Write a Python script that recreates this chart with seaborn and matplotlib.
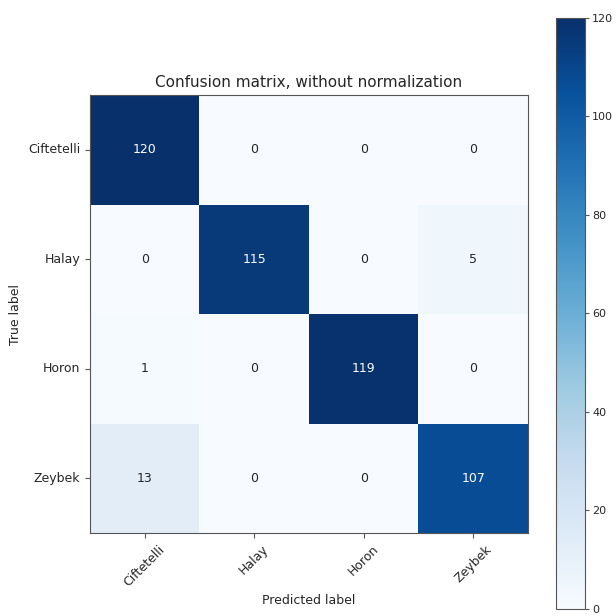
import numpy as np
import pandas as pd
import matplotlib
matplotlib.use("Agg")
import matplotlib.pyplot as plt
import seaborn as sns

classes = ["Ciftetelli", "Halay", "Horon", "Zeybek"]
row_ciftetelli = [120, 0, 0, 0]
row_halay = [0, 115, 0, 5]
row_horon = [1, 0, 119, 0]
row_zeybek = [13, 0, 0, 107]
cbar_ticks = [0, 20, 40, 60, 80, 100, 120]

cm = pd.DataFrame([row_ciftetelli, row_halay, row_horon, row_zeybek],
                  index=classes, columns=classes)

sns.set_style("white")
plt.rcParams["font.family"] = ["DejaVu Sans"]

fig = plt.figure(figsize=(6.16, 6.16), dpi=100)
ax = fig.add_axes([0.1461, 0.1347, 0.7110, 0.7110])
cax = fig.add_axes([0.9026, 0.0114, 0.0471, 0.9594])

sns.heatmap(cm, ax=ax, cbar_ax=cax, cmap="Blues", vmin=0, vmax=120,
            annot=False, square=False, cbar_kws={"ticks": cbar_ticks})

vals = cm.values
thresh = vals.max() / 2.0
for i in range(vals.shape[0]):
    for j in range(vals.shape[1]):
        ax.text(j + 0.5, i + 0.5, f"{vals[i, j]:d}", ha="center", va="center",
                fontsize=9, color="white" if vals[i, j] > thresh else "#262626")

for s in ax.spines.values():
    s.set_visible(True)
    s.set_color("#555555")
    s.set_linewidth(0.8)

ax.set_xticks(np.arange(len(classes)) + 0.5)
ax.set_yticks(np.arange(len(classes)) + 0.5)
ax.set_xticklabels(classes, rotation=45, ha="center", fontsize=9)
ax.set_yticklabels(classes, rotation=0, fontsize=9)
ax.tick_params(axis="both", length=3.5, width=0.8, color="#555555", bottom=True, left=True)
ax.set_title("Confusion matrix, without normalization", fontsize=11, pad=6)
ax.set_xlabel("Predicted label", fontsize=9)
ax.set_ylabel("True label", fontsize=9)

cax.tick_params(labelsize=8, length=3, width=0.8, pad=2, color="#555555", right=True)
cb = ax.collections[0].colorbar
cb.outline.set_visible(True)
cb.outline.set_edgecolor("#555555")
cb.outline.set_linewidth(0.8)

fig.savefig("out.png", dpi=100, facecolor="white")
